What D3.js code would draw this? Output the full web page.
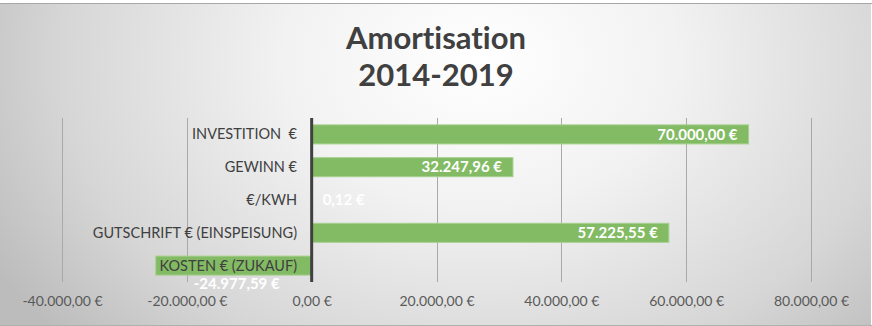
<!DOCTYPE html>
<html><head><meta charset="utf-8">
<script src="https://cdn.jsdelivr.net/npm/d3@7"></script>
<style>html,body{margin:0;padding:0;background:#fff;}svg{display:block;}text{font-variant-ligatures:none;font-feature-settings:"liga" 0;}</style>
</head><body>
<script>
const categories = ["INVESTITION  €", "GEWINN €", "€/KWH", "GUTSCHRIFT € (EINSPEISUNG)", "KOSTEN € (ZUKAUF)"];
const values = [70000, 32247.96, 0.12, 57225.55, -24977.59];
const ticks = [-40000, -20000, 0, 20000, 40000, 60000, 80000];
const titleLines = ["Amortisation", "2014-2019"];

const W = 872, H = 326;
const fmt = v => {
  const neg = v < 0; v = Math.abs(v);
  const parts = v.toFixed(2).split(".");
  const intp = parts[0].replace(/\B(?=(\d{3})+(?!\d))/g, ".");
  return (neg ? "-" : "") + intp + "," + parts[1] + " €";
};

const svg = d3.select("body").append("svg").attr("width", W).attr("height", H);
const defs = svg.append("defs");
const rg = defs.append("radialGradient").attr("id", "bg").attr("gradientUnits", "userSpaceOnUse")
  .attr("cx", 480).attr("cy", 60).attr("r", 560).attr("fx", 480).attr("fy", 60)
  .attr("gradientTransform", "translate(480,60) scale(1,0.75) translate(-480,-60)");
rg.append("stop").attr("offset", "0").attr("stop-color", "#ffffff");
rg.append("stop").attr("offset", "0.35").attr("stop-color", "#f2f2f2");
rg.append("stop").attr("offset", "0.75").attr("stop-color", "#d6d6d6");
rg.append("stop").attr("offset", "1").attr("stop-color", "#bcbcbc");

svg.append("rect").attr("x", 0).attr("y", 0).attr("width", W).attr("height", 3).attr("fill", "#ffffff");
svg.append("rect").attr("x", 0).attr("y", 3).attr("width", W - 1).attr("height", H - 4).attr("fill", "url(#bg)");
svg.append("line").attr("x1", 0).attr("x2", W).attr("y1", 3.5).attr("y2", 3.5).attr("stroke", "#a8a8a8");
svg.append("line").attr("x1", 0).attr("x2", W).attr("y1", H - 0.5).attr("y2", H - 0.5).attr("stroke", "#b0b0b0");

const x = d3.scaleLinear().domain([-40000, 80000]).range([62, 811]);
const y = d3.scaleBand().domain(categories).range([118, 282]).paddingInner(0.42).paddingOuter(0.21);

svg.append("g").selectAll("line").data(ticks).join("line")
  .attr("x1", d => Math.round(x(d)) + 0.5).attr("x2", d => Math.round(x(d)) + 0.5)
  .attr("y1", 118).attr("y2", 282).attr("stroke", "#a9a9a9").attr("stroke-width", 1);

svg.append("g").selectAll("rect").data(values).join("rect")
  .attr("x", d => x(Math.min(0, d)))
  .attr("width", d => Math.abs(x(d) - x(0)))
  .attr("y", (d, i) => y(categories[i]))
  .attr("height", y.bandwidth())
  .attr("fill", "#82bb63").attr("stroke", "#a6d08e").attr("stroke-width", 1);

svg.append("line").attr("x1", x(0)).attr("x2", x(0)).attr("y1", 118).attr("y2", 282)
  .attr("stroke", "#404040").attr("stroke-width", 3);

const xAxis = d3.axisBottom(x).tickValues(ticks).tickFormat(fmt).tickSize(0).tickPadding(0);
const xg = svg.append("g").attr("transform", "translate(0,296)").call(xAxis);
xg.select(".domain").remove();
xg.selectAll("text").attr("font-family", "Lato, 'Open Sans', sans-serif").attr("font-size", "14px")
  .attr("fill", "#595959").attr("dy", "0.71em");

const yAxis = d3.axisLeft(y).tickSize(0).tickPadding(0);
const yg = svg.append("g").attr("transform", "translate(297,0)").call(yAxis);
yg.select(".domain").remove();
yg.selectAll("text").attr("font-family", "Lato, 'Open Sans', sans-serif").attr("font-size", "14.5px")
  .attr("fill", "#404040").attr("dy", "0.35em").style("white-space", "pre");

svg.append("g").selectAll("text").data(values).join("text")
  .attr("font-family", "Lato, 'Open Sans', sans-serif").attr("font-weight", "bold").attr("font-size", "15px")
  .attr("fill", "#ffffff")
  .attr("x", d => d > 1000 ? x(d) - 11 : (d < 0 ? x(d) + 38 : x(d) + 11))
  .attr("y", (d, i) => d < 0 ? y(categories[i]) + y.bandwidth() + 9 : y(categories[i]) + y.bandwidth() / 2)
  .attr("dy", "0.35em")
  .attr("text-anchor", d => d > 1000 ? "end" : "start")
  .text(fmt);

svg.append("g").selectAll("text").data(titleLines).join("text")
  .attr("x", 436).attr("y", (d, i) => 38 + i * 37).attr("dy", "0.35em")
  .attr("text-anchor", "middle").attr("font-family", "Lato, 'Open Sans', sans-serif")
  .attr("font-weight", "bold").attr("font-size", "31px").attr("fill", "#404040").text(d => d);
</script>
</body></html>
